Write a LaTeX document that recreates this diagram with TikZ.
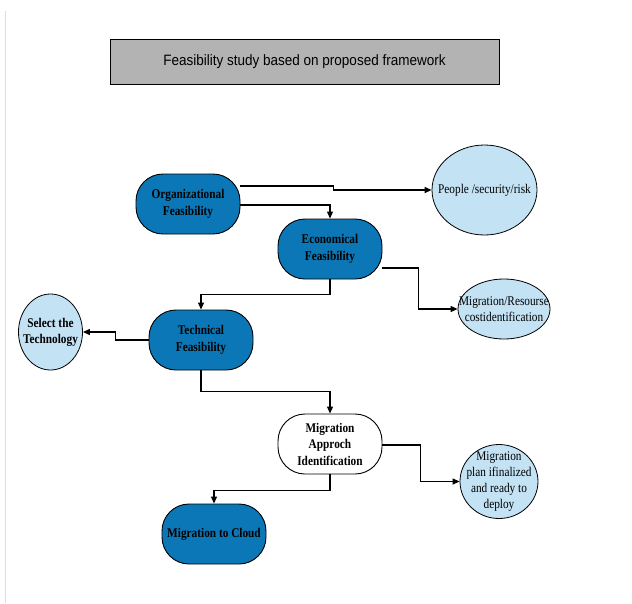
\documentclass[tikz,border=0pt]{standalone}
\usepackage{fontspec}
\setmainfont[FakeStretch=0.85]{Liberation Serif}
\newfontfamily\titlefont[FakeStretch=0.9]{Liberation Sans}
\usetikzlibrary{shapes.geometric,arrows.meta,calc}
\definecolor{boxblue}{HTML}{0C77B6}
\definecolor{lightblue}{HTML}{C3E2F4}
\definecolor{titlegray}{HTML}{B3B3B3}
\begin{document}
\begin{tikzpicture}[x=1pt,y=-1pt,
  stepbox/.style={draw=black,line width=0.9pt,rounded corners=27pt,minimum width=104pt,minimum height=60pt,inner sep=0pt,align=center,font=\fontsize{13.3}{16.5}\selectfont\bfseries},
  bluebox/.style={stepbox,fill=boxblue},
  whitebox/.style={stepbox,fill=white},
  oval/.style={ellipse,draw=black,line width=0.8pt,fill=lightblue,inner sep=0pt},
  ovaltext/.style={inner sep=0pt,align=center,font=\fontsize{13.3}{16.3}\selectfont},
  arr/.style={draw=black,line width=1.1pt,-{Triangle[width=6pt,length=7pt]}}]
\useasboundingbox (0,0) rectangle (632,603);
\draw[color=black!13,line width=1pt] (5,11) -- (5,603);
\node[draw=black,line width=1pt,fill=titlegray,minimum width=389pt,minimum height=45pt,inner sep=0pt,font=\titlefont\fontsize{15}{18}\selectfont] (title) at (304.5,61.5) {Feasibility study based on proposed framework};
\node[bluebox] (org) at (188,204) {Organizational\\Feasibility};
\node[bluebox] (econ) at (330,249) {Economical\\Feasibility};
\node[bluebox] (tech) at (201,340) {Technical\\Feasibility};
\node[whitebox] (mai) at (330,444) {Migration\\Approch\\Identification};
\node[bluebox] (mtc) at (214,534) {Migration to Cloud};
\node[oval,minimum width=105pt,minimum height=90pt] (people) at (484.5,190) {};
\node[ovaltext] (peopletext) at (people) {People /security/risk};
\node[oval,minimum width=92pt,minimum height=60pt] (res) at (504,309) {};
\node[ovaltext] (restext) at (res) {Migration/Resourse\\costidentification};
\node[oval,minimum width=64pt,minimum height=76pt] (sel) at (50.5,332) {};
\node[ovaltext,font=\fontsize{13.3}{16.3}\selectfont\bfseries] (seltext) at (sel) {Select the\\Technology};
\node[oval,minimum width=78pt,minimum height=74pt] (plan) at (499,481.5) {};
\node[ovaltext] (plantext) at (plan) {Migration\\plan ifinalized\\and ready to\\deploy};
\draw[arr] ($(org.east)+(0,-18)$) -- ++(93,0) |- (people.west);
\draw[arr] ($(org.east)+(0,1)$) -| (econ.north);
\draw[arr] ($(econ.east)+(0,19)$) -- ++(36,0) |- (res.west);
\draw[arr] (econ.south) -- ++(0,15) -| (tech.north);
\draw[arr] (tech.west) -- ++(-33,0) |- (sel.east);
\draw[arr] (tech.south) -- ++(0,21) -| (mai.north);
\draw[arr] ($(mai.east)+(0,1)$) -- ++(38,0) |- (plan.west);
\draw[arr] (mai.south) -- ++(0,16) -| (mtc.north);
\end{tikzpicture}
\end{document}
